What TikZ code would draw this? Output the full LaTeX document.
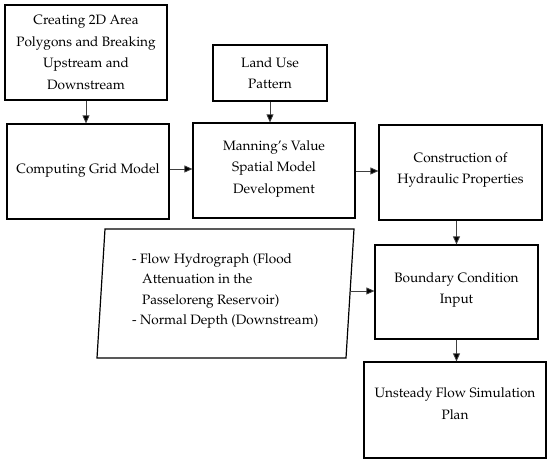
\documentclass[tikz,border=0pt]{standalone}
\usepackage[T1]{fontenc}
\usepackage{mathpazo}
\usetikzlibrary{arrows.meta}
\tikzset{
  box/.style={draw=black, line width=1.2pt, rectangle, align=center, inner sep=2pt,
    font=\fontsize{13.6}{21.5}\selectfont},
  arr/.style={draw=black!75, line width=0.8pt, -{Triangle[length=8pt,width=7pt,fill=black]}},
}
\begin{document}
\begin{tikzpicture}[x=1pt,y=-1pt]
\useasboundingbox[fill=white] (0,0) rectangle (550,462);
\node[box, minimum width=162, minimum height=95] (A) at (86,52.5) {Creating 2D Area\\Polygons and Breaking\\Upstream and\\Downstream};
\node[box, minimum width=162, minimum height=95] (B) at (88,171.5) {Computing Grid Model\\[-16pt]};
\node[box, minimum width=114, minimum height=56] (C) at (270,73) {Land Use\\Pattern};
\node[box, minimum width=162, minimum height=95] (D) at (274,170.5) {Manning's Value\\Spatial Model\\Development\\[-14pt]};
\node[box, minimum width=163, minimum height=95] (G) at (460.5,172.5) {Construction of\\Hydraulic Properties\\[-12.5pt]};
\node[box, minimum width=163, minimum height=94] (E) at (456.5,292) {Boundary Condition\\Input\\[-13.5pt]};
\node[box, minimum width=182, minimum height=96] (F) at (455,410) {Unsteady Flow Simulation\\Plan\\[-8.5pt]};
% parallelogram
\coordinate (p1) at (105,229);
\coordinate (p2) at (354,229);
\coordinate (p3) at (346,358);
\coordinate (p4) at (97,358);
\draw[line width=1.2pt, line join=miter] (p1) -- (p2) -- (p3) -- (p4) -- cycle;
\node[anchor=west, align=left, inner sep=0pt, font=\fontsize{13.6}{20.5}\selectfont] (P) at (132,291)
  {- Flow Hydrograph (Flood\\\hspace*{10pt}Attenuation in the\\\hspace*{10pt}Passeloreng Reservoir)\\- Normal Depth (Downstream)};
\coordinate (pe) at (351,291);
% arrows
\draw[arr] (A.south) -- (A.south |- B.north);
\draw[arr] (C.south) -- (C.south |- D.north);
\draw[arr] (B.east |- 0,169) -- (D.west |- 0,169);
\draw[arr] (D.east |- 0,171) -- (G.west |- 0,171);
\draw[arr] (E.north |- G.south) -- (E.north);
\draw[arr] (pe) -- (pe -| E.west);
\draw[arr] (E.south) -- (E.south |- F.north);
\end{tikzpicture}
\end{document}
